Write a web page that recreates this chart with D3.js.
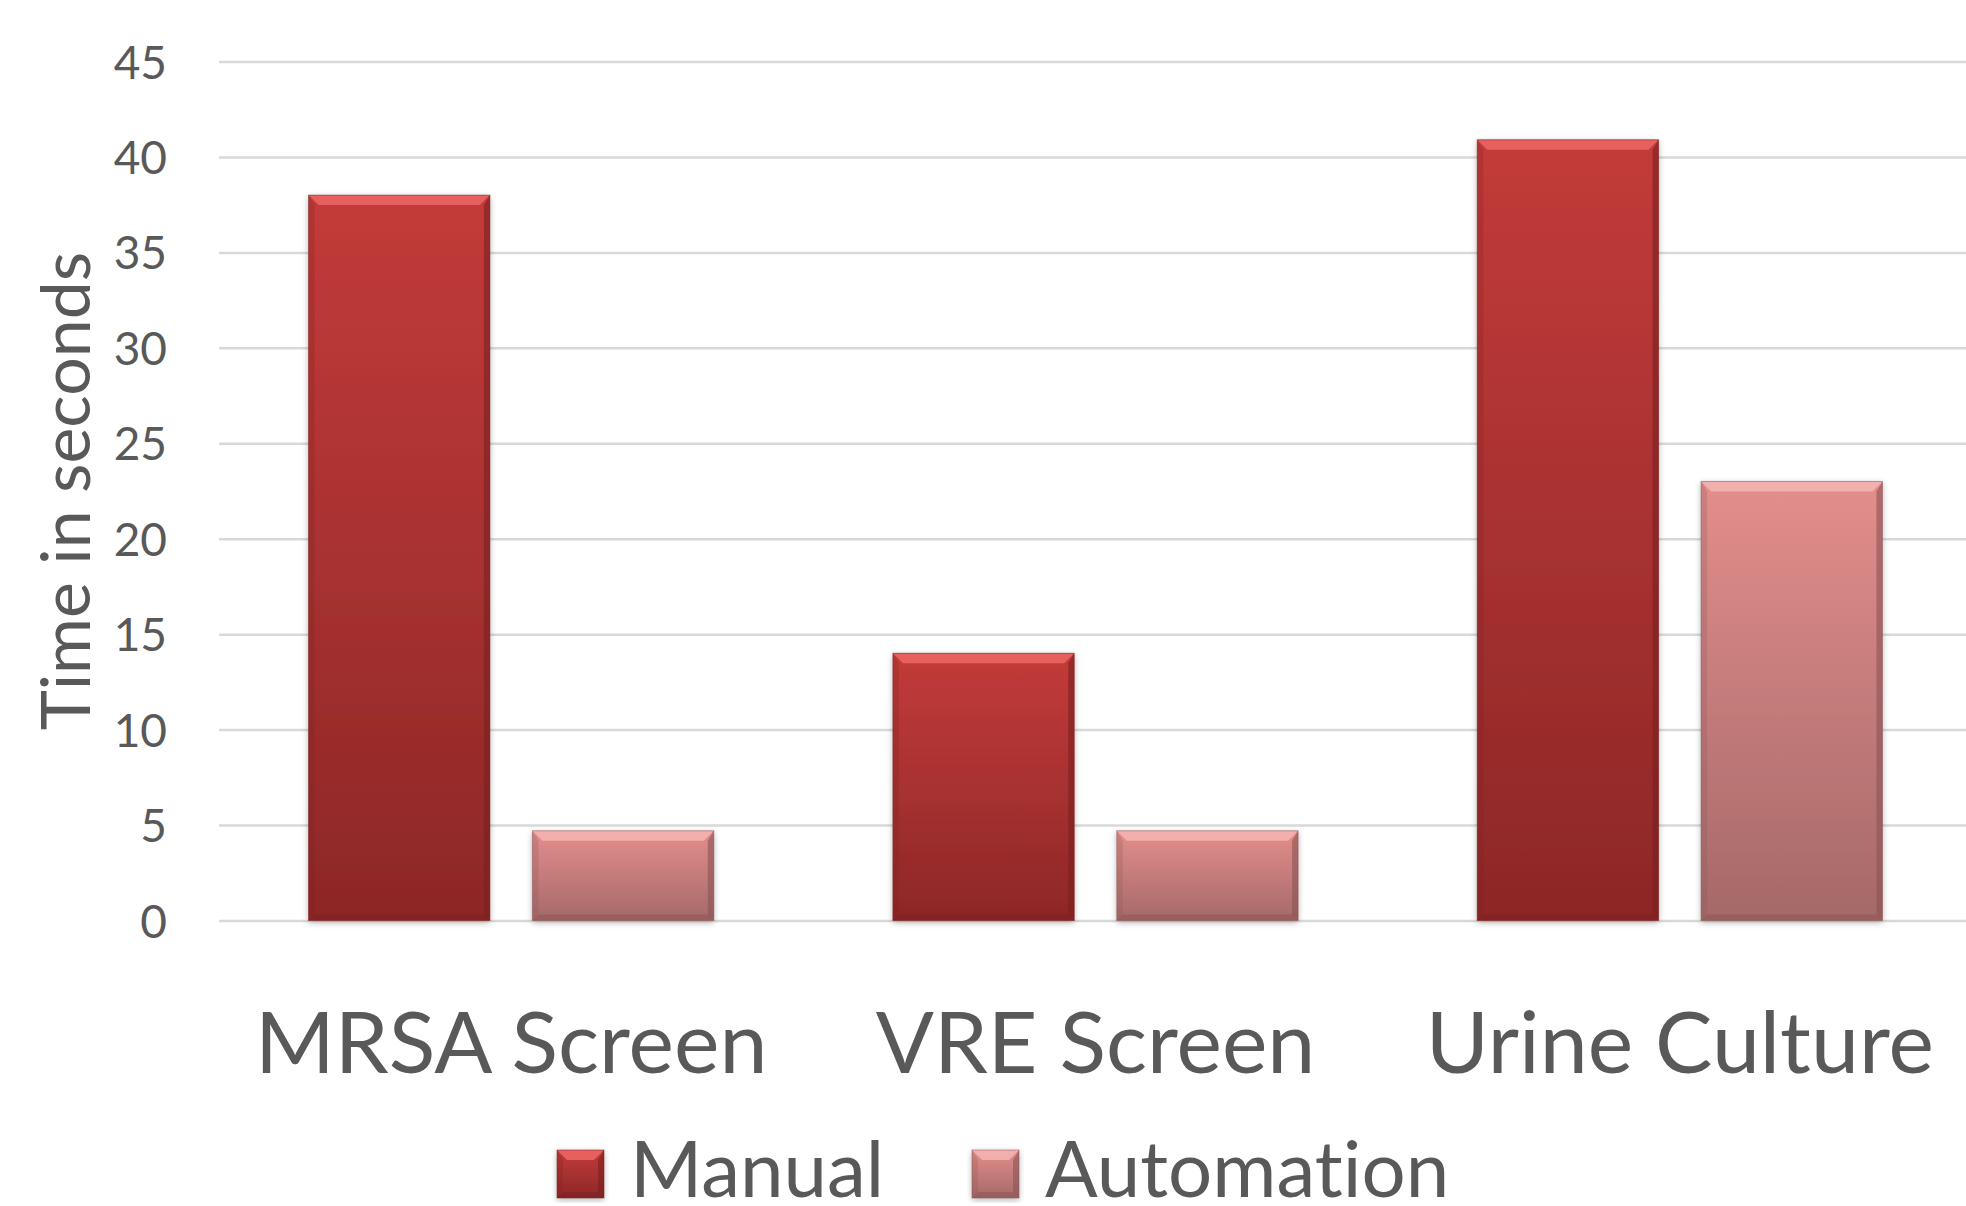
<!DOCTYPE html>
<html>
<head>
<meta charset="utf-8">
<script src="https://cdnjs.cloudflare.com/ajax/libs/d3/7.8.5/d3.min.js"></script>
<style>
  body { margin: 0; background: #ffffff; overflow: hidden; }
  text { font-family: Lato, "Open Sans", sans-serif; fill: #595959; font-variant-ligatures: none; }
</style>
</head>
<body>
<div id="chart"></div>
<script>
//Chart data
const categories = ["MRSA Screen", "VRE Screen", "Urine Culture"]
const seriesNames = ["Manual", "Automation"]
const manualValues = [38, 14, 40.9]
const automationValues = [4.7, 4.7, 23]
const yTicks = [0, 5, 10, 15, 20, 25, 30, 35, 40, 45]
const yTitle = "Time in seconds"

//Colours for each series: top of gradient, bottom of gradient, bevel light, bevel dark
const seriesColors = {
  "Manual": {top: "#c33b3a", bottom: "#8d2727", light: "#f06a68", dark: "#7a1f1f"},
  "Automation": {top: "#e38e8c", bottom: "#a56968", light: "#f8b8b6", dark: "#8a5453"}
}

const width = 1966
const height = 1206

const svg = d3.select("#chart")
  .append("svg")
  .attr("width", width)
  .attr("height", height)

//gradients and shadow
const defs = svg.append("defs")
seriesNames.forEach(function(s, i){
  const g = defs.append("linearGradient")
    .attr("id", "grad" + i)
    .attr("x1", 0).attr("y1", 0).attr("x2", 0).attr("y2", 1)
  g.append("stop").attr("offset", "0%").attr("stop-color", seriesColors[s].top)
  g.append("stop").attr("offset", "100%").attr("stop-color", seriesColors[s].bottom)
})
const shadow = defs.append("filter").attr("id", "shadow")
  .attr("x", "-10%").attr("y", "-10%").attr("width", "120%").attr("height", "120%")
shadow.append("feDropShadow")
  .attr("dx", 0).attr("dy", 2).attr("stdDeviation", 3)
  .attr("flood-color", "#000").attr("flood-opacity", 0.3)

//scales
const x0 = d3.scaleBand()
  .domain(categories)
  .range([219, 1972])

const x1 = d3.scaleBand()
  .domain(seriesNames)
  .range([0, x0.bandwidth()])
  .paddingInner(0.19)
  .paddingOuter(0.40)

const y = d3.scaleLinear()
  .domain([0, 45])
  .range([920.5, 61.5])

//grid lines
const yAxis = d3.axisLeft(y)
  .tickValues(yTicks)
  .tickSize(-(1972 - 219))
  .tickPadding(52)
  .tickFormat(d3.format("d"))

const axisG = svg.append("g")
  .attr("transform", "translate(219,0)")
  .call(yAxis)
axisG.select(".domain").remove()
axisG.selectAll(".tick line")
  .attr("stroke", "#d9d9d9")
  .attr("stroke-width", 2.5)
axisG.selectAll(".tick text")
  .attr("font-size", 46)
  .attr("font-family", "Lato, sans-serif")
  .attr("fill", "#595959")
  .attr("dy", "0.36em")

//y axis title
svg.append("text")
  .attr("transform", "translate(90," + (y(0) + y(45)) / 2 + ") rotate(-90)")
  .attr("text-anchor", "middle")
  .attr("font-size", 68)
  .text(yTitle)

//table built from the arrays
const tableData = categories.map(function(c, i){
  return {category: c, values: [
    {series: "Manual", value: manualValues[i]},
    {series: "Automation", value: automationValues[i]}
  ]}
})

//draws one bevelled bar
function drawBar(g, x, yTop, w, h, s, idx) {
  const b = Math.min(10, h / 2)
  const c = seriesColors[s]
  g.append("rect")
    .attr("x", x).attr("y", yTop).attr("width", w).attr("height", h)
    .attr("fill", "url(#grad" + idx + ")")
    .attr("filter", "url(#shadow)")
  //top bevel
  g.append("polygon")
    .attr("points", [[x, yTop], [x + w, yTop], [x + w - b, yTop + b], [x + b, yTop + b]].join(" "))
    .attr("fill", c.light).attr("opacity", 0.8)
  //right bevel
  g.append("polygon")
    .attr("points", [[x + w, yTop], [x + w, yTop + h], [x + w - b * 0.6, yTop + h - b * 0.6], [x + w - b * 0.6, yTop + b]].join(" "))
    .attr("fill", c.dark).attr("opacity", 0.6)
  //left bevel
  g.append("polygon")
    .attr("points", [[x, yTop], [x, yTop + h], [x + b * 0.6, yTop + h - b * 0.6], [x + b * 0.6, yTop + b]].join(" "))
    .attr("fill", c.dark).attr("opacity", 0.25)
  //bottom bevel
  g.append("polygon")
    .attr("points", [[x, yTop + h], [x + w, yTop + h], [x + w - b * 0.6, yTop + h - b * 0.6], [x + b * 0.6, yTop + h - b * 0.6]].join(" "))
    .attr("fill", c.dark).attr("opacity", 0.5)
  g.append("rect")
    .attr("x", x).attr("y", yTop).attr("width", w).attr("height", h)
    .attr("fill", "none").attr("stroke", c.dark).attr("stroke-width", 1).attr("opacity", 0.5)
}

//bars
tableData.forEach(function(d){
  d.values.forEach(function(v, j){
    const g = svg.append("g")
    drawBar(g, x0(d.category) + x1(v.series), y(v.value), x1.bandwidth(), y(0) - y(v.value), v.series, j)
  })
})

//category labels
svg.selectAll(".catLabel")
  .data(categories)
  .enter()
  .append("text")
  .attr("class", "catLabel")
  .attr("x", function(d){ return x0(d) + x0.bandwidth() / 2 })
  .attr("y", 1073)
  .attr("text-anchor", "middle")
  .attr("font-size", 86)
  .text(function(d){ return d })

//legend
const legendX = [557, 972]
seriesNames.forEach(function(s, i){
  const g = svg.append("g")
  drawBar(g, legendX[i], 1150, 47, 48, s, i)
  g.append("text")
    .attr("x", legendX[i] + 73)
    .attr("y", 1197)
    .attr("font-size", 78)
    .text(s)
})
</script>
</body>
</html>
